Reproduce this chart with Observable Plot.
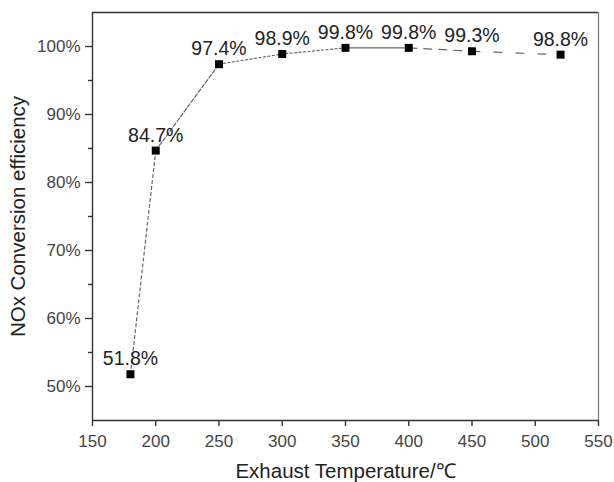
<!DOCTYPE html>
<html>
<head>
<meta charset="utf-8">
<script src="https://cdn.jsdelivr.net/npm/d3@7"></script>
<script src="https://cdn.jsdelivr.net/npm/@observablehq/plot@0.6"></script>
<style>
  html, body { margin: 0; padding: 0; background: #fff; }
  #chart svg { display: block; }
</style>
</head>
<body>
<div id="chart"></div>
<script>
const temperatures = [180, 200, 250, 300, 350, 400, 450, 520];
const efficiency = [51.8, 84.7, 97.4, 98.9, 99.8, 99.8, 99.3, 98.8];
const xTicks = [150, 200, 250, 300, 350, 400, 450, 500, 550];
const yTicks = [50, 60, 70, 80, 90, 100];
const yMinorTicks = [55, 65, 75, 85, 95];

const data = temperatures.map((t, i) => ({t, e: efficiency[i]}));

// line segment styles between consecutive points
const segStyles = [
  {from: 0, to: 1, dash: "3,3"},
  {from: 1, to: 2, dash: "4,2"},
  {from: 2, to: 4, dash: "2,2.5"},
  {from: 4, to: 5, dash: null},
  {from: 5, to: 6, dash: "8,7"},
  {from: 6, to: 7, dash: "8,14"}
];

const font = "'Liberation Sans', Arial, sans-serif";

const lineMarks = segStyles.map(s => Plot.line(data.slice(s.from, s.to + 1), {
  x: "t", y: "e", stroke: "#666", strokeWidth: 1.2,
  strokeDasharray: s.dash ?? undefined
}));

const chart = Plot.plot({
  width: 614,
  height: 482,
  marginLeft: 92,
  marginRight: 16,
  marginTop: 12,
  marginBottom: 62,
  style: {fontFamily: font, background: "#fff"},
  x: {domain: [150, 550]},
  y: {domain: [45, 105]},
  marks: [
    ...lineMarks,
    Plot.dot(data, {x: "t", y: "e", symbol: "square", r: 4.5, fill: "#000", stroke: "none"}),
    Plot.text(data, {
      x: "t", y: "e", text: d => d.e.toFixed(1) + "%",
      dy: -9, lineAnchor: "bottom", textAnchor: "middle",
      fontSize: 19.5, fill: "#222", fontFamily: font
    }),
    Plot.ruleY([105], {stroke: "#333", strokeWidth: 1.4}),
    Plot.ruleX([550], {stroke: "#777", strokeWidth: 1.2}),
    Plot.axisX({
      ticks: xTicks, tickSize: 6, tickPadding: 8, fontSize: 17,
      color: "#444", stroke: "#333", strokeWidth: 1.4,
      label: "Exhaust Temperature/℃", labelAnchor: "center", labelArrow: "none",
      labelOffset: 57
    }),
    Plot.ruleY([45], {stroke: "#333", strokeWidth: 1.4}),
    Plot.ruleX([150], {stroke: "#333", strokeWidth: 1.4}),
    Plot.axisY({
      ticks: yTicks, tickSize: 7, tickPadding: 5, fontSize: 17,
      color: "#444", stroke: "#333", strokeWidth: 1.4,
      tickFormat: d => d + "%",
      label: "NOx Conversion efficiency", labelAnchor: "center", labelArrow: "none",
      labelOffset: 82
    }),
    Plot.axisY({ticks: yMinorTicks, tickSize: 4, text: null, stroke: "#333", strokeWidth: 1.4, label: null})
  ]
});

// enlarge axis titles
chart.querySelectorAll('g[aria-label="x-axis label"] text, g[aria-label="y-axis label"] text').forEach(t => {
  t.setAttribute("font-size", "20.5");
  t.style.fontSize = "20.5px";
  t.setAttribute("fill", "#222");
});
chart.querySelectorAll('g[aria-label="x-axis label"], g[aria-label="y-axis label"]').forEach(g => {
  g.setAttribute("font-size", "20.5");
  g.setAttribute("fill", "#222");
});

document.getElementById("chart").appendChild(chart);
</script>
</body>
</html>
